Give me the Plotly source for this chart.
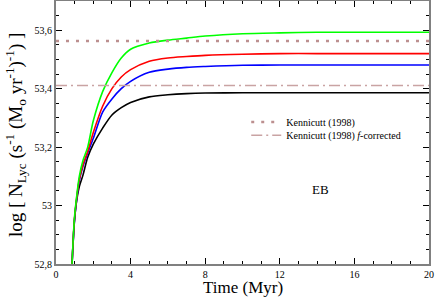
import plotly.graph_objects as go

time = [0.86, 0.98, 1.07, 1.25, 1.45, 1.7, 2.0, 2.5, 3.0, 3.5, 4.0, 5.0, 6.0, 7.0, 8.0, 10, 12, 14, 16, 18, 20]
green = [52.8, 52.95, 53.01, 53.10, 53.155, 53.20, 53.29, 53.39, 53.455, 53.505, 53.535, 53.556, 53.566, 53.573, 53.580, 53.588, 53.591, 53.593, 53.593, 53.593, 53.593]
red = [52.8, 52.945, 53.005, 53.09, 53.14, 53.185, 53.25, 53.34, 53.40, 53.44, 53.465, 53.494, 53.505, 53.51, 53.514, 53.518, 53.52, 53.52, 53.52, 53.52, 53.52]
blue = [52.8, 52.94, 53.0, 53.085, 53.135, 53.18, 53.23, 53.32, 53.365, 53.40, 53.425, 53.456, 53.467, 53.473, 53.476, 53.48, 53.481, 53.481, 53.481, 53.481, 53.481]
black = [52.8, 52.94, 53.0, 53.065, 53.105, 53.165, 53.21, 53.265, 53.31, 53.335, 53.353, 53.372, 53.379, 53.383, 53.385, 53.386, 53.386, 53.386, 53.386, 53.386, 53.386]

kennicutt = 53.563
kennicutt_f = 53.411
ref_x = [0, 20]

x_ticks = [0, 4, 8, 12, 16, 20]
y_ticks = [52.8, 53.0, 53.2, 53.4, 53.6]
y_tick_labels = ["52,8", "53", "53,2", "53,4", "53,6"]

serif = "Liberation Serif"

fig = go.Figure()
for ys, col in [(black, "#000000"), (blue, "#0000ff"), (red, "#ff0000"), (green, "#00ff00")]:
    fig.add_trace(go.Scatter(x=time, y=ys, mode="lines", line=dict(color=col, width=1.6, shape="spline", smoothing=0.8),
                             showlegend=False, hoverinfo="skip"))

fig.add_trace(go.Scatter(x=ref_x, y=[kennicutt] * 2, mode="lines", name="Kennicutt (1998)", legend="legend",
                         line=dict(color="#bc8f8f", width=2.5, dash="3px,7px")))
fig.add_trace(go.Scatter(x=ref_x, y=[kennicutt_f] * 2, mode="lines", name="Kennicutt (1998) <i>f</i>-corrected",
                         legend="legend2",
                         line=dict(color="#c9a3a3", width=1.5, dash="11px,4px,2px,4px")))

axis_common = dict(showline=True, linecolor="#808080", linewidth=2, mirror="allticks", ticks="inside",
                   tickcolor="#000000", ticklen=6, tickwidth=1, showgrid=False, zeroline=False, automargin=False,
                   tickfont=dict(family=serif, size=10, color="#000000"))

leg_common = dict(xanchor="left", yanchor="middle", bgcolor="rgba(0,0,0,0)",
                  font=dict(family=serif, size=10, color="#000000"), itemwidth=30)

fig.update_layout(
    width=436, height=297,
    margin=dict(l=56, r=7, t=1, b=33),
    paper_bgcolor="white", plot_bgcolor="white",
    xaxis=dict(range=[0, 20], tickvals=x_ticks,
               minor=dict(dtick=1, ticks="inside", ticklen=3, tickcolor="#000000"),
               **axis_common),
    yaxis=dict(range=[52.8, 53.7], tickvals=y_ticks, ticktext=y_tick_labels,
               minor=dict(dtick=0.05, ticks="inside", ticklen=3, tickcolor="#000000"),
               **axis_common),
    legend=dict(x=0.51, y=0.54, **leg_common),
    legend2=dict(x=0.51, y=0.49, **leg_common),
    annotations=[
        dict(x=14.2, y=53.055, xref="x", yref="y", text="EB", showarrow=False,
             font=dict(family=serif, size=13, color="#000000")),
        dict(x=-0.11, y=0.49, xref="paper", yref="paper", textangle=-90, xanchor="center", yanchor="middle",
             text="log [ N<sub>Lyc</sub> (s<sup>-1</sup> (M<sub>o</sub> yr<sup>-1</sup>)<sup>-1</sup>) ]",
             showarrow=False, font=dict(family=serif, size=19, color="#000000")),
        dict(x=0.5, y=-0.049, xref="paper", yref="paper", xanchor="center", yanchor="top", borderpad=0,
             text="Time (Myr)", showarrow=False, font=dict(family=serif, size=17, color="#000000")),
    ],
)

fig.write_html("out.html", config={"displayModeBar": False},
               post_script="document.body.style.margin='0';")
